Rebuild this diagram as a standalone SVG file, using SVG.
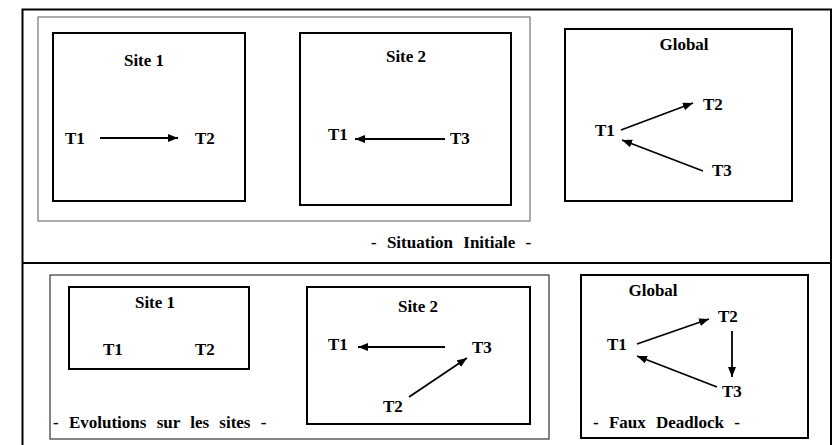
<svg xmlns="http://www.w3.org/2000/svg" width="836" height="445" viewBox="0 0 836 445">
  <style>
    .frame { fill: none; stroke: #000; stroke-width: 2; }
    .group-box { fill: none; stroke: #777; stroke-width: 1.2; }
    .group-box-dark { fill: none; stroke: #333; stroke-width: 1.2; }
    .box { fill: #fff; stroke: #000; stroke-width: 2; }
    text { font-family: "Liberation Serif", "Times New Roman", Times, "DejaVu Serif", serif; font-weight: 700; font-size: 17px; fill: #000; }
    .title { text-anchor: middle; }
    .caption { word-spacing: 6px; }
    .edge { stroke: #000; stroke-width: 1.8; fill: none; marker-end: url(#arrow); }
  </style>
  <defs>
    <marker id="arrow" markerUnits="userSpaceOnUse" markerWidth="11" markerHeight="9" refX="10" refY="4" orient="auto">
      <path d="M0,0 L10,4 L0,8 z" fill="#000"/>
    </marker>
  </defs>
  <rect width="836" height="445" fill="#fff"/>

  <!-- outer frame and divider -->
  <path class="frame" d="M22.5,445 V9.5 H831 V445"/>
  <line class="frame" x1="22.5" y1="263" x2="831" y2="263"/>

  <!-- initial situation -->
  <rect class="group-box" x="38" y="17" width="492" height="204"/>

  <g id="site1-initial">
    <rect class="box" x="53" y="33" width="192" height="168"/>
    <text class="title" x="144" y="66">Site 1</text>
    <text x="65" y="144">T1</text>
    <text x="195" y="144">T2</text>
  </g>

  <g id="site2-initial">
    <rect class="box" x="300" y="33" width="211" height="172"/>
    <text class="title" x="406" y="62">Site 2</text>
    <text x="328" y="140">T1</text>
    <text x="450" y="144">T3</text>
  </g>

  <g id="global-initial">
    <rect class="box" x="565" y="29" width="227" height="172"/>
    <text class="title" x="684" y="50">Global</text>
    <text x="595" y="136">T1</text>
    <text x="703" y="110">T2</text>
    <text x="712" y="176">T3</text>
  </g>

  <text class="caption" x="371" y="248">- Situation Initiale -</text>

  <!-- evolution -->
  <rect class="group-box-dark" x="50" y="275" width="499" height="164"/>

  <g id="site1-evolved">
    <rect class="box" x="69" y="287" width="180" height="82"/>
    <text class="title" x="155" y="308">Site 1</text>
    <text x="103" y="355">T1</text>
    <text x="195" y="355">T2</text>
  </g>

  <g id="site2-evolved">
    <rect class="box" x="307" y="287" width="223" height="137"/>
    <text class="title" x="418" y="312">Site 2</text>
    <text x="328" y="350">T1</text>
    <text x="472" y="353">T3</text>
    <text x="383" y="412">T2</text>
  </g>

  <text class="caption" x="53" y="428">- Evolutions sur les sites -</text>

  <g id="global-deadlock">
    <rect class="box" x="581" y="275" width="227" height="163"/>
    <text class="title" x="653" y="296">Global</text>
    <text x="607" y="350">T1</text>
    <text x="718" y="322">T2</text>
    <text x="722" y="397">T3</text>
    <text class="caption" x="593" y="428">- Faux Deadlock -</text>
  </g>

  <!-- wait-for edges -->
  <g id="edges">
    <line class="edge" x1="100" y1="138" x2="178" y2="138"/>
    <line class="edge" x1="445" y1="139" x2="355" y2="139"/>
    <line class="edge" x1="621" y1="130" x2="693" y2="103"/>
    <line class="edge" x1="703" y1="171" x2="622" y2="140"/>
    <line class="edge" x1="445" y1="347" x2="358" y2="347"/>
    <line class="edge" x1="409" y1="397" x2="467" y2="358"/>
    <line class="edge" x1="637" y1="344" x2="709" y2="319"/>
    <line class="edge" x1="732" y1="331" x2="732" y2="377"/>
    <line class="edge" x1="717" y1="387" x2="637" y2="356"/>
  </g>
</svg>
